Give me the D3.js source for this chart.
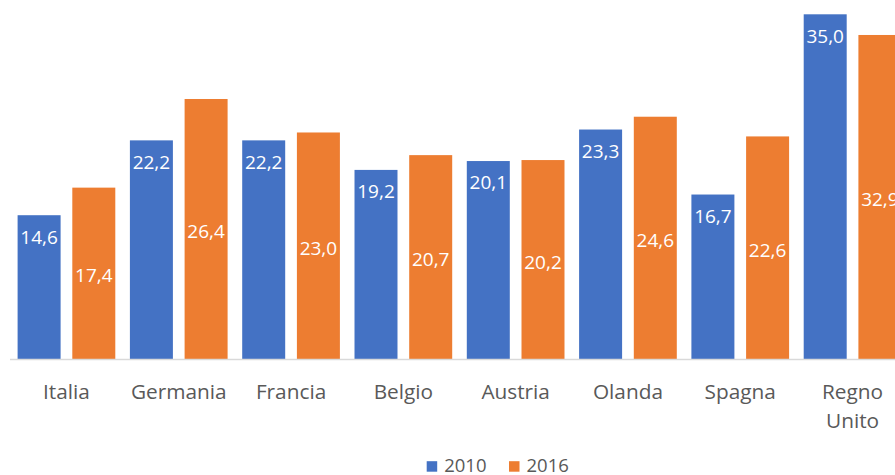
<!DOCTYPE html>
<html>
<head>
<meta charset="utf-8">
<script src="https://cdn.jsdelivr.net/npm/d3@7"></script>
<style>
  html, body { margin: 0; padding: 0; background: #fff; }
  svg { display: block; font-family: "Open Sans", sans-serif; }
</style>
</head>
<body>
<svg id="chart" width="895" height="475"></svg>
<script>
const categories = ["Italia", "Germania", "Francia", "Belgio", "Austria", "Olanda", "Spagna", "Regno Unito"];
const seriesNames = ["2010", "2016"];
const values2010 = [14.6, 22.2, 22.2, 19.2, 20.1, 23.3, 16.7, 35.0];
const values2016 = [17.4, 26.4, 23.0, 20.7, 20.2, 24.6, 22.6, 32.9];
const colors = ["#4472C4", "#ED7D31"];

const svg = d3.select("#chart");
const W = 895, H = 475;

const x0 = d3.scaleBand().domain(categories).range([10.3, 10.3 + 8 * 112.3]).paddingInner(0).paddingOuter(0);
const x1 = d3.scaleBand().domain(seriesNames).range([0, x0.bandwidth()]).paddingInner(0.214).paddingOuter(0.1335);
const y = d3.scaleLinear().domain([0, 35]).range([359, 14.3]);

const fmt = v => d3.format(".1f")(v).replace(".", ",");

const data = categories.map((c, i) => ({
  cat: c,
  vals: [
    { s: "2010", v: values2010[i], k: 0 },
    { s: "2016", v: values2016[i], k: 1 }
  ]
}));

const g = svg.selectAll("g.cat").data(data).join("g")
  .attr("class", "cat")
  .attr("transform", d => `translate(${x0(d.cat)},0)`);

g.selectAll("rect").data(d => d.vals).join("rect")
  .attr("x", d => x1(d.s))
  .attr("width", x1.bandwidth())
  .attr("y", d => y(d.v))
  .attr("height", d => y(0) - y(d.v))
  .attr("fill", d => colors[d.k]);

g.selectAll("text.val").data(d => d.vals).join("text")
  .attr("class", "val")
  .attr("x", d => x1(d.s) + x1.bandwidth() / 2)
  .attr("y", d => d.k === 0 ? y(d.v) + 28.3 : (y(d.v) + y(0)) / 2 + 9)
  .attr("text-anchor", "middle")
  .attr("fill", "#ffffff")
  .attr("font-size", 19)
  .text(d => fmt(d.v));

// axis line
const xAxis = d3.axisBottom(x0).tickSize(0).tickFormat("");
const ax = svg.append("g").attr("transform", `translate(0,${y(0) + 0.5})`).call(xAxis);
ax.select(".domain").attr("d", `M10,0H${W}`).attr("stroke", "#d9d9d9").attr("stroke-width", 1.3);

// category labels (wrapped)
const labelLines = {"Regno Unito": ["Regno", "Unito"]};
svg.append("g").selectAll("text").data(categories).join("text")
  .attr("x", d => x0(d) + x0.bandwidth() / 2)
  .attr("y", 399)
  .attr("text-anchor", "middle")
  .attr("fill", "#595959")
  .attr("font-size", 20.8)
  .each(function(d) {
    const lines = labelLines[d] || [d];
    const t = d3.select(this);
    lines.forEach((l, i) => {
      t.append("tspan").attr("x", x0(d) + x0.bandwidth() / 2).attr("dy", i === 0 ? 0 : 29).text(l);
    });
  });

// legend
const legendX = [426.7, 509];
const lg = svg.append("g").selectAll("g").data(seriesNames).join("g")
  .attr("transform", (d, i) => `translate(${legendX[i]},0)`);
lg.append("rect").attr("x", 0).attr("y", 461.2).attr("width", 10.5).attr("height", 10.5)
  .attr("fill", (d, i) => colors[i]);
lg.append("text").attr("x", 17.5).attr("y", 472).attr("fill", "#595959")
  .attr("font-size", 18.5).text(d => d);
</script>
</body>
</html>
